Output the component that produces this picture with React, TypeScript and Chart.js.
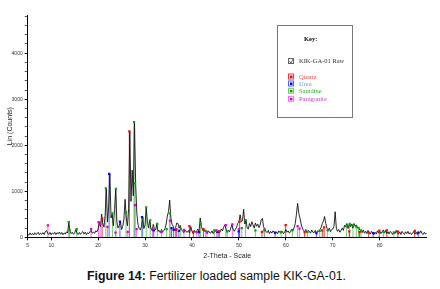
import React, { useEffect, useRef } from 'react';
import { Chart, registerables } from 'chart.js';

Chart.register(...registerables);

const thetaStart = 5;
const thetaStep = 0.25;
const rawCounts = [
  70, 45, 95, 55, 85, 50, 100, 60, 75, 110, 55, 90, 65, 100, 60, 120,
  150, 90, 60, 105, 55, 95, 70, 110, 60, 100, 75, 115, 65, 105, 55, 95,
  70, 120, 90, 320, 140, 80, 110, 65, 95, 170, 90, 60, 105, 65, 100, 125,
  70, 110, 60, 100, 80, 120, 150, 90, 115, 85, 140, 120,
  180, 340, 230, 505, 290, 220, 480, 1050, 330, 680, 1380, 420, 500, 250, 600, 1040,
  330, 200, 260, 340, 170, 240, 400, 825, 420, 250, 620, 2300, 780, 1460, 900, 2500,
  1150, 520, 280, 190, 160, 240, 430, 190, 270, 650, 330, 200, 370, 190, 150, 280,
  190, 160, 290, 130, 150, 100, 170, 120, 140, 190, 290, 460, 560, 810, 420, 280,
  240, 150, 210, 310, 300, 200, 260, 160, 140, 100, 160, 120, 110, 150, 90, 230,
  130, 80, 150, 110, 140, 180, 120, 420, 240, 150, 180, 120, 130, 80, 140, 100,
  90, 140, 80, 120, 150, 100, 140, 90, 120, 180, 140, 220, 270, 180, 110, 150,
  120, 200, 280, 180, 130, 170, 220, 300, 330, 490, 340, 360, 610, 290, 380, 200,
  180, 300, 230, 340, 270, 200, 310, 240, 290, 210, 260, 380, 410, 230, 170, 130,
  100, 150, 80, 130, 90, 140, 110, 70, 120, 80, 140, 100, 90, 130, 80, 120,
  170, 110, 140, 90, 130, 180, 150, 210, 300, 500, 740, 520, 420, 290, 200, 150,
  120, 170, 100, 150, 130, 90, 160, 110, 100, 150, 90, 140, 120, 170, 210, 300,
  350, 450, 300, 200, 150, 200, 120, 170, 180, 240, 555, 200, 130, 170, 110, 150,
  200, 150, 260, 220, 300, 190, 280, 230, 290, 200, 300, 240, 270, 210, 190, 160,
  140, 100, 160, 90, 130, 80, 150, 100, 70, 130, 90, 60, 110, 70, 140, 90,
  130, 80, 120, 160, 90, 150, 80, 120, 70, 130, 100, 60, 120, 80, 150, 90,
  70, 120, 60, 130, 90, 60, 120, 80, 130, 70, 100, 60, 90, 130, 70, 110,
  60, 120, 90, 140, 80, 60, 110, 70, 90,
];

// Reference phase sticks (2-Theta, counts)
const quartzTheta = [20.85, 26.65, 36.55, 39.45, 40.3, 42.45, 45.8, 50.15, 54.9, 59.95, 64.0, 67.75, 68.15, 73.5, 75.7, 77.65, 79.9, 81.5, 83.85, 87.45];
const quartzCounts = [410, 2300, 160, 245, 120, 175, 130, 340, 120, 267, 110, 150, 217, 130, 110, 100, 145, 150, 125, 140];

const ureaTheta = [22.35, 24.65, 29.35, 31.85, 35.65, 36.1, 37.2, 41.5, 45.55, 49.95, 57.7, 66.5, 78.6, 88.2];
const ureaCounts = [1380, 340, 440, 150, 200, 160, 140, 110, 120, 130, 100, 90, 90, 100];

const sanidineTheta = [13.75, 13.9, 15.45, 21.65, 23.05, 23.8, 25.95, 27.65, 27.85, 29.5, 30.25, 31.1, 32.6, 34.6, 35.3, 37.6, 41.8, 42.9, 44.75, 47.5, 50.6, 51.4, 53.5, 55.4, 59.0, 61.4, 64.6, 67.2, 68.9, 72.9, 73.6, 74.3, 75.0, 75.5, 76.0, 80.8, 83.0];
const sanidineCounts = [330, 160, 180, 1065, 520, 1050, 540, 2500, 1170, 410, 650, 370, 290, 180, 520, 180, 300, 140, 150, 130, 200, 375, 150, 150, 120, 150, 120, 140, 150, 250, 290, 260, 230, 200, 150, 120, 100];

const paragoniteTheta = [9.3, 18.5, 20.1, 20.45, 22.0, 23.7, 26.3, 27.85, 28.2, 31.6, 33.5, 35.3, 36.7, 38.3, 41.0, 43.2, 45.2, 47.2, 48.6, 50.0, 55.5, 62.5, 62.9];
const paragoniteCounts = [260, 180, 330, 290, 225, 100, 120, 700, 180, 180, 110, 360, 180, 160, 110, 120, 150, 267, 283, 180, 170, 245, 190];

const xTickValues = [5, 10, 20, 30, 40, 50, 60, 70, 80];
const yMajorStep = 1000;
const yMinorStep = 200;
const yMax = 4830;
const xMin = 5;
const xMax = 90;

const sampleName = 'KIK-GA-01 Raw';
const phaseNames = ['Quartz', 'Urea', 'Sanidine', 'Paragonite'];
const phaseColors = ['#ff0000', '#0000ff', '#00a800', '#e000e0'];
const phaseStickColors = ['rgba(200,0,0,0.75)', 'rgba(40,40,255,0.75)', 'rgba(60,180,60,0.7)', 'rgba(230,60,230,0.7)'];
const phaseTextColors = ['#ff5050', '#5aa0e0', '#30b030', '#c040d0'];

const phases = [
  { theta: quartzTheta, counts: quartzCounts },
  { theta: ureaTheta, counts: ureaCounts },
  { theta: sanidineTheta, counts: sanidineCounts },
  { theta: paragoniteTheta, counts: paragoniteCounts },
];

const keyPlugin = {
  id: 'xrdKey',
  afterDraw(chart: any) {
    const ctx = chart.ctx;
    ctx.save();
    ctx.strokeStyle = '#777';
    ctx.lineWidth = 1;
    ctx.strokeRect(277.5, 25.5, 75, 92);
    ctx.fillStyle = '#000';
    ctx.font = 'bold 6.5px "Liberation Serif"';
    ctx.textBaseline = 'middle';
    ctx.textAlign = 'left';
    ctx.fillText('Key:', 304, 39);
    // raw sample checkbox
    ctx.strokeStyle = '#666';
    ctx.strokeRect(288.5, 58.5, 5, 5);
    ctx.beginPath();
    ctx.moveTo(289.5, 61);
    ctx.lineTo(291, 63);
    ctx.lineTo(293, 59);
    ctx.stroke();
    ctx.fillStyle = '#333';
    ctx.font = '6.5px "Liberation Serif"';
    ctx.fillText(sampleName, 299, 61.5);
    const ys = [76.5, 83.5, 90.8, 98.8];
    phaseNames.forEach((name, i) => {
      const y = ys[i];
      ctx.strokeStyle = phaseStickColors[i];
      ctx.strokeRect(288.5, y - 2.5, 5, 5);
      ctx.fillStyle = phaseColors[i];
      ctx.fillRect(290, y - 1, 2.5, 2.5);
      ctx.fillStyle = phaseTextColors[i];
      ctx.fillText(name, 299, y + 0.5);
    });
    ctx.restore();
  },
};

export default function App() {
  const ref = useRef<HTMLCanvasElement>(null);

  useEffect(() => {
    if (!ref.current) return;
    Chart.defaults.font.family = '"Liberation Sans", Arial, sans-serif';

    const pattern = rawCounts.map((c, i) => ({ x: thetaStart + i * thetaStep, y: c }));

    const stickSets: any[] = [];
    const markerSets: any[] = [];
    phases.forEach((p, k) => {
      const sticks: any[] = [];
      p.theta.forEach((t, i) => {
        sticks.push({ x: t, y: 0 }, { x: t, y: p.counts[i] }, { x: t, y: null });
      });
      stickSets.push({
        type: 'line',
        label: phaseNames[k] + ' sticks',
        data: sticks,
        borderColor: phaseStickColors[k],
        borderWidth: 1,
        pointRadius: 0,
        spanGaps: false,
        order: 3,
      });
      markerSets.push({
        type: 'scatter',
        label: phaseNames[k],
        data: p.theta.map((t, i) => ({ x: t, y: p.counts[i] })),
        backgroundColor: phaseColors[k],
        borderColor: phaseColors[k],
        borderWidth: 0,
        pointStyle: 'rect',
        pointRadius: 1.6,
        order: 0,
      });
    });

    const chart = new Chart(ref.current, {
      type: 'line',
      data: {
        datasets: [
          ...markerSets,
          {
            type: 'line',
            label: sampleName,
            data: pattern,
            borderColor: '#111',
            borderWidth: 0.9,
            pointRadius: 0,
            tension: 0,
            order: 1,
          },
          ...stickSets,
        ],
      },
      options: {
        animation: false,
        responsive: false,
        maintainAspectRatio: false,
        layout: { padding: { left: 0, right: 13.3, top: 15, bottom: 0 } },
        plugins: { legend: { display: false }, tooltip: { enabled: false }, title: { display: false } },
        scales: {
          x: {
            type: 'linear',
            min: xMin,
            max: xMax,
            afterBuildTicks: (s: any) => {
              s.ticks = xTickValues.map((v) => ({ value: v }));
            },
            afterFit: (s: any) => {
              s.height = 25.7;
            },
            ticks: {
              font: { size: 5 },
              color: '#333',
              padding: 2,
              maxRotation: 0,
              autoSkip: false,
              callback: (v: any) => String(v),
            },
            grid: { drawOnChartArea: false, drawTicks: true, tickLength: 3, color: '#000' },
            border: { display: true, color: '#000', width: 1 },
            title: {
              display: true,
              text: '2-Theta - Scale',
              font: { size: 7 },
              color: '#222',
              padding: { top: 0, bottom: 3 },
            },
          },
          y: {
            type: 'linear',
            min: 0,
            max: yMax,
            afterBuildTicks: (s: any) => {
              const t: any[] = [];
              for (let v = 0; v <= yMax; v += yMinorStep) t.push({ value: v });
              s.ticks = t;
            },
            afterFit: (s: any) => {
              s.width = 27.7;
            },
            ticks: {
              font: { size: 5 },
              color: '#333',
              padding: 2,
              autoSkip: false,
              callback: (v: any) => (v % yMajorStep === 0 ? String(v) : ''),
            },
            grid: {
              drawOnChartArea: false,
              drawTicks: true,
              tickLength: 3,
              color: (c: any) => (c.tick && c.tick.value % yMajorStep === 0 ? '#000' : '#555'),
            },
            border: { display: true, color: '#000', width: 1 },
            title: {
              display: true,
              text: 'Lin (Counts)',
              font: { size: 7 },
              color: '#222',
              padding: { top: 6, bottom: 0 },
            },
          },
        },
      },
      plugins: [keyPlugin],
    } as any);

    return () => chart.destroy();
  }, []);

  return (
    <div style={{ position: 'absolute', left: 0, top: 0, width: 440, height: 289, background: '#fff' }}>
      <canvas ref={ref} width={440} height={263} style={{ position: 'absolute', left: 0, top: 0, display: 'block' }} />
      <div
        style={{
          position: 'absolute',
          left: 87,
          top: 269,
          whiteSpace: 'nowrap',
          font: '12.3px "Liberation Sans", Arial, sans-serif',
          color: '#111',
        }}
      >
        <b>Figure 14:</b> Fertilizer loaded sample KIK-GA-01.
      </div>
    </div>
  );
}
